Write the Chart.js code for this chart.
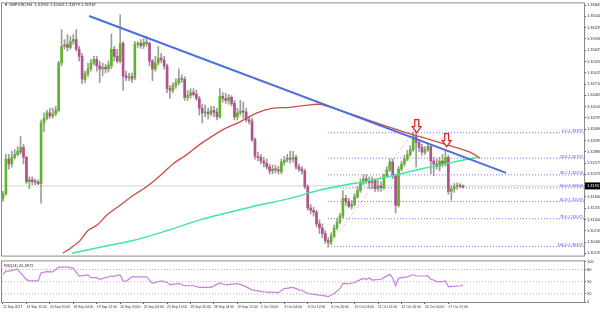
<!DOCTYPE html>
<html>
<head>
<meta charset="utf-8">
<script src="https://cdn.jsdelivr.net/npm/chart.js@4.4.1/dist/chart.umd.min.js"></script>
<style>
  html, body { margin: 0; padding: 0; background: #fff; }
  #wrap { position: relative; width: 600px; height: 313px; overflow: hidden; }
  #main { position: absolute; left: 0; top: 0; }
  #rsi { position: absolute; left: 0; top: 258px; }
</style>
</head>
<body>
<div id="wrap">
  <canvas id="main" width="600" height="259"></canvas>
  <canvas id="rsi" width="600" height="55"></canvas>
</div>
<script>
// GBPUSD H4 candles, 12 Sep - 17 Oct 2017
const openP = [
  1.3162, 1.3175, 1.3268, 1.3255, 1.3273, 1.3281, 1.3287, 1.3300, 1.3273, 1.3207,
  1.3212, 1.3207, 1.3206, 1.3202, 1.3366, 1.3379, 1.3393, 1.3385, 1.3390, 1.3400,
  1.3528, 1.3573, 1.3578, 1.3570, 1.3586, 1.3591, 1.3565, 1.3546, 1.3483, 1.3499,
  1.3512, 1.3528, 1.3538, 1.3520, 1.3512, 1.3517, 1.3512, 1.3520, 1.3565, 1.3546,
  1.3533, 1.3581, 1.3493, 1.3488, 1.3491, 1.3488, 1.3578, 1.3581, 1.3575, 1.3583,
  1.3581, 1.3533, 1.3512, 1.3528, 1.3541, 1.3536, 1.3520, 1.3459, 1.3454, 1.3467,
  1.3475, 1.3485, 1.3484, 1.3435, 1.3440, 1.3448, 1.3443, 1.3432, 1.3406, 1.3393,
  1.3395, 1.3390, 1.3400, 1.3395, 1.3382, 1.3438, 1.3432, 1.3427, 1.3435, 1.3419,
  1.3382, 1.3393, 1.3398, 1.3395, 1.3374, 1.3371, 1.3321, 1.3276, 1.3273, 1.3263,
  1.3257, 1.3247, 1.3236, 1.3241, 1.3239, 1.3234, 1.3260, 1.3265, 1.3271, 1.3268,
  1.3273, 1.3247, 1.3241, 1.3236, 1.3194, 1.3136, 1.3130, 1.3125, 1.3093, 1.3082,
  1.3067, 1.3048, 1.3043, 1.3061, 1.3082, 1.3098, 1.3114, 1.3162, 1.3154, 1.3141,
  1.3146, 1.3167, 1.3183, 1.3204, 1.3215, 1.3210, 1.3204, 1.3210, 1.3188, 1.3196,
  1.3191, 1.3223, 1.3239, 1.3260, 1.3223, 1.3143, 1.3241, 1.3255, 1.3268, 1.3281,
  1.3294, 1.3329, 1.3313, 1.3300, 1.3287, 1.3294, 1.3302, 1.3263, 1.3255, 1.3249,
  1.3263, 1.3255, 1.3273, 1.3181, 1.3188, 1.3194, 1.3196, 1.3195
];
const highP = [
  1.3181, 1.3281, 1.3281, 1.3289, 1.3294, 1.3302, 1.3329, 1.3308, 1.3276, 1.3220,
  1.3220, 1.3215, 1.3212, 1.3374, 1.3393, 1.3400, 1.3406, 1.3406, 1.3411, 1.3533,
  1.3618, 1.3591, 1.3605, 1.3599, 1.3605, 1.3618, 1.3573, 1.3554, 1.3506, 1.3528,
  1.3538, 1.3546, 1.3546, 1.3533, 1.3528, 1.3525, 1.3533, 1.3607, 1.3573, 1.3565,
  1.3658, 1.3586, 1.3506, 1.3501, 1.3501, 1.3586, 1.3586, 1.3591, 1.3594, 1.3599,
  1.3586, 1.3538, 1.3546, 1.3573, 1.3554, 1.3546, 1.3525, 1.3467, 1.3475, 1.3485,
  1.3512, 1.3496, 1.3491, 1.3454, 1.3459, 1.3459, 1.3454, 1.3438, 1.3416, 1.3414,
  1.3406, 1.3411, 1.3411, 1.3406, 1.3459, 1.3448, 1.3446, 1.3443, 1.3440, 1.3427,
  1.3406, 1.3427, 1.3422, 1.3406, 1.3382, 1.3379, 1.3326, 1.3287, 1.3281, 1.3273,
  1.3268, 1.3255, 1.3252, 1.3252, 1.3249, 1.3268, 1.3276, 1.3281, 1.3289, 1.3289,
  1.3279, 1.3255, 1.3249, 1.3241, 1.3199, 1.3146, 1.3138, 1.3130, 1.3104, 1.3093,
  1.3075, 1.3056, 1.3069, 1.3090, 1.3109, 1.3122, 1.3183, 1.3170, 1.3162, 1.3157,
  1.3175, 1.3194, 1.3215, 1.3226, 1.3226, 1.3220, 1.3220, 1.3215, 1.3210, 1.3207,
  1.3228, 1.3247, 1.3268, 1.3268, 1.3228, 1.3249, 1.3263, 1.3279, 1.3292, 1.3305,
  1.3342, 1.3345, 1.3321, 1.3308, 1.3302, 1.3310, 1.3308, 1.3273, 1.3268, 1.3273,
  1.3281, 1.3289, 1.3279, 1.3196, 1.3202, 1.3204, 1.3202, 1.3199
];
const lowP = [
  1.3154, 1.3170, 1.3241, 1.3247, 1.3268, 1.3276, 1.3281, 1.3255, 1.3202, 1.3188,
  1.3199, 1.3199, 1.3199, 1.3149, 1.3342, 1.3374, 1.3379, 1.3379, 1.3385, 1.3395,
  1.3520, 1.3565, 1.3560, 1.3565, 1.3578, 1.3560, 1.3533, 1.3472, 1.3475, 1.3491,
  1.3506, 1.3522, 1.3506, 1.3475, 1.3493, 1.3501, 1.3504, 1.3512, 1.3533, 1.3528,
  1.3528, 1.3454, 1.3480, 1.3480, 1.3475, 1.3483, 1.3570, 1.3567, 1.3567, 1.3573,
  1.3520, 1.3480, 1.3506, 1.3522, 1.3528, 1.3512, 1.3448, 1.3432, 1.3448, 1.3459,
  1.3469, 1.3475, 1.3427, 1.3427, 1.3432, 1.3438, 1.3427, 1.3387, 1.3366, 1.3382,
  1.3377, 1.3385, 1.3382, 1.3374, 1.3379, 1.3422, 1.3419, 1.3416, 1.3411, 1.3374,
  1.3374, 1.3387, 1.3379, 1.3369, 1.3363, 1.3316, 1.3268, 1.3263, 1.3255, 1.3247,
  1.3241, 1.3228, 1.3228, 1.3231, 1.3228, 1.3228, 1.3252, 1.3260, 1.3257, 1.3260,
  1.3241, 1.3234, 1.3228, 1.3188, 1.3130, 1.3120, 1.3114, 1.3085, 1.3067, 1.3056,
  1.3040, 1.3030, 1.3037, 1.3056, 1.3077, 1.3093, 1.3109, 1.3143, 1.3136, 1.3133,
  1.3141, 1.3162, 1.3178, 1.3199, 1.3202, 1.3188, 1.3188, 1.3181, 1.3181, 1.3181,
  1.3186, 1.3218, 1.3234, 1.3215, 1.3122, 1.3138, 1.3236, 1.3249, 1.3263, 1.3276,
  1.3289, 1.3247, 1.3289, 1.3279, 1.3281, 1.3289, 1.3228, 1.3223, 1.3241, 1.3236,
  1.3247, 1.3249, 1.3173, 1.3157, 1.3178, 1.3186, 1.3191, 1.3190
];
const closeP = [
  1.3175, 1.3268, 1.3255, 1.3273, 1.3281, 1.3289, 1.3300, 1.3273, 1.3207, 1.3212,
  1.3207, 1.3206, 1.3202, 1.3366, 1.3379, 1.3393, 1.3385, 1.3390, 1.3400, 1.3528,
  1.3573, 1.3578, 1.3570, 1.3586, 1.3591, 1.3565, 1.3546, 1.3485, 1.3499, 1.3512,
  1.3528, 1.3538, 1.3520, 1.3512, 1.3517, 1.3512, 1.3522, 1.3565, 1.3546, 1.3533,
  1.3581, 1.3493, 1.3488, 1.3491, 1.3485, 1.3578, 1.3581, 1.3575, 1.3583, 1.3581,
  1.3533, 1.3512, 1.3528, 1.3541, 1.3536, 1.3520, 1.3459, 1.3454, 1.3467, 1.3475,
  1.3485, 1.3484, 1.3435, 1.3440, 1.3448, 1.3443, 1.3432, 1.3406, 1.3393, 1.3395,
  1.3390, 1.3400, 1.3395, 1.3382, 1.3438, 1.3432, 1.3427, 1.3435, 1.3419, 1.3382,
  1.3393, 1.3398, 1.3395, 1.3374, 1.3371, 1.3321, 1.3276, 1.3273, 1.3263, 1.3257,
  1.3247, 1.3236, 1.3241, 1.3239, 1.3236, 1.3260, 1.3265, 1.3271, 1.3268, 1.3273,
  1.3247, 1.3241, 1.3236, 1.3194, 1.3136, 1.3130, 1.3125, 1.3093, 1.3082, 1.3067,
  1.3048, 1.3043, 1.3061, 1.3082, 1.3098, 1.3114, 1.3162, 1.3154, 1.3141, 1.3146,
  1.3167, 1.3183, 1.3204, 1.3215, 1.3210, 1.3204, 1.3210, 1.3188, 1.3196, 1.3191,
  1.3223, 1.3239, 1.3260, 1.3223, 1.3143, 1.3241, 1.3255, 1.3268, 1.3281, 1.3294,
  1.3329, 1.3313, 1.3300, 1.3287, 1.3294, 1.3302, 1.3263, 1.3255, 1.3249, 1.3263,
  1.3255, 1.3273, 1.3181, 1.3188, 1.3194, 1.3196, 1.3195, 1.3192
];

// time axis labels, one every 8 bars
const timeLabels = [
  "12 Sep 2017", "13 Sep 12:00", "14 Sep 20:00", "18 Sep 04:00", "19 Sep 12:00",
  "20 Sep 20:00", "22 Sep 04:00", "25 Sep 12:00", "26 Sep 20:00", "28 Sep 04:00",
  "29 Sep 12:00", "2 Oct 20:00", "4 Oct 04:00", "5 Oct 12:00", "6 Oct 20:00",
  "10 Oct 04:00", "11 Oct 12:00", "12 Oct 20:00", "16 Oct 04:00", "17 Oct 12:00"
];
const priceTicks = [
  1.36845, 1.36540, 1.36235, 1.35930, 1.35625, 1.35320, 1.35015, 1.34710,
  1.34405, 1.34100, 1.33795, 1.33490, 1.33185, 1.32880, 1.32575, 1.32270,
  1.31965, 1.31660, 1.31355, 1.31050, 1.30745, 1.30440, 1.30135
];

// moving averages (bar index, price)
const redMaIdx = [20.5, 23.5, 26.3, 29, 32.1, 35.5, 39.9, 44.4, 49.1, 53.6, 58, 62.8, 67.2, 75.1, 80.9,
  86.7, 92.2, 98, 103.8, 108.2, 115, 121.8, 128.7, 135.5, 140, 145.7, 153.6, 159.4, 162.8];
const redMaVal = [1.3014, 1.3030, 1.3048, 1.3075, 1.3090, 1.3117, 1.3143, 1.3170, 1.3194, 1.3223, 1.3255,
  1.3281, 1.3308, 1.3348, 1.3369, 1.3393, 1.3406, 1.3408, 1.3414, 1.3416, 1.3400, 1.3382, 1.3363,
  1.3345, 1.3334, 1.3321, 1.3302, 1.3287, 1.3271];
const greenMaIdx = [23.5, 33.1, 44.4, 56, 67.2, 77.5, 86.7, 98, 108.9, 119.5, 131.1, 142.3, 153.6, 162.1];
const greenMaVal = [1.3014, 1.3030, 1.3048, 1.3075, 1.3104, 1.3125, 1.3143, 1.3162, 1.3186, 1.3202,
  1.3220, 1.3241, 1.3260, 1.3273];

// bearish trend line
const trendIdx = [29.4, 171.7];
const trendVal = [1.3655, 1.3231];

// fibonacci retracement
const fibPct = ["0.0", "23.6", "38.2", "50.0", "61.8", "78.6", "100.0"];
const fibVal = [1.33395, 1.32707, 1.32256, 1.31904, 1.31533, 1.31071, 1.30322];
const fibStart = 110.9;
const fibSwingIdx = [110.9, 140];
const fibSwingVal = [1.30322, 1.33395];

const arrowIdx = [141.2, 151.4];
const arrowVal = [1.3340, 1.3302];
const lastPrice = 1.31957;

// RSI(14)
const rsiIdx = [0, 1, 2, 5, 6, 8, 9, 12, 13, 15, 17, 19, 22, 24, 26, 29, 30, 32, 33, 37,
  38, 39, 40, 41, 42, 44, 49, 51, 54, 56, 57, 60, 62, 65, 67, 71, 74, 76, 80, 82,
  85, 89, 94, 96, 99, 101, 102, 104, 108, 110, 111, 113, 115, 116, 118, 120, 121, 123, 124, 125,
  126, 129, 130, 132, 133, 134, 135, 138, 140, 141, 144, 145, 146, 147, 148, 150, 151, 152, 153, 156, 157];
const rsiVal = [68, 76, 76, 81, 72, 55, 52, 52, 72, 75, 74, 86, 86, 83, 64, 67, 60, 60, 56, 64,
  63, 66, 66, 52, 51, 62, 62, 46, 52, 48, 42, 46, 40, 40, 36, 36, 47, 42, 45, 41,
  30, 25, 23, 33, 36, 30, 29, 21, 17, 15, 13, 21, 33, 46, 45, 48, 52, 58, 56, 59,
  54, 56, 60, 68, 59, 40, 59, 62, 67, 64, 64, 65, 56, 54, 50, 50, 52, 38, 38, 40, 41];
const rsiTicks = [0, 20, 50, 80, 100];
const rsiLevels = [20, 50, 80];

const X_MIN = -0.341, X_MAX = 198.29;
const UP = "#62b22a", DOWN = "#b4508c", WICK = "#9c9c9c";
const FONT = '"Liberation Sans", Arial, sans-serif';

Chart.defaults.font.family = FONT;
Chart.defaults.animation = false;

const pts = (idx, vals) => idx.map((x, k) => ({ x: x, y: vals[k] }));
const flat = (v, from) => [{ x: from, y: v }, { x: X_MAX, y: v }];

function drawArrow(ctx, cx, tip) {
  ctx.beginPath();
  ctx.moveTo(cx, tip);
  ctx.lineTo(cx - 4.5, tip - 6);
  ctx.lineTo(cx - 2, tip - 6);
  ctx.lineTo(cx - 2, tip - 13);
  ctx.lineTo(cx + 2, tip - 13);
  ctx.lineTo(cx + 2, tip - 6);
  ctx.lineTo(cx + 4.5, tip - 6);
  ctx.closePath();
  ctx.fillStyle = "#fff";
  ctx.fill();
  ctx.strokeStyle = "#e3262b";
  ctx.lineWidth = 1.3;
  ctx.stroke();
}

const mainOverlay = {
  id: "mainOverlay",
  afterDraw(chart) {
    const { ctx, chartArea: a, scales: { x, y } } = chart;
    ctx.save();
    ctx.font = "4px " + FONT;
    // fib labels
    ctx.fillStyle = "#4b4bff";
    ctx.textAlign = "right";
    ctx.textBaseline = "bottom";
    fibPct.forEach((p, k) => {
      ctx.fillText(p + " " + fibVal[k].toFixed(5), a.right - 1, y.getPixelForValue(fibVal[k]) + 0.5);
    });
    // arrows
    arrowIdx.forEach((v, k) => drawArrow(ctx, x.getPixelForValue(v), y.getPixelForValue(arrowVal[k])));
    // frame
    ctx.strokeStyle = "#8a8a8a";
    ctx.lineWidth = 1;
    ctx.strokeRect(a.left - 0.5, a.top - 0.5, a.right - a.left + 1, a.bottom - a.top + 1);
    // title
    ctx.fillStyle = "#222";
    ctx.textAlign = "left";
    ctx.textBaseline = "middle";
    ctx.fillText("\u25BC GBPUSD,H4  1.31961 1.32003 1.31879 1.31919", 4, 5);
    // last price box
    const py = y.getPixelForValue(lastPrice);
    ctx.fillStyle = "#000";
    ctx.fillRect(a.right + 1, py - 3.5, 16, 7);
    ctx.fillStyle = "#fff";
    ctx.fillText(lastPrice.toFixed(5), a.right + 3, py);
    ctx.restore();
  }
};

new Chart(document.getElementById("main"), {
  type: "bar",
  data: {
    datasets: [
      {
        type: "line", data: flat(lastPrice, X_MIN), borderColor: "#c9dcc9", borderWidth: 1,
        pointRadius: 0, order: 20
      },
      ...fibVal.map((v) => ({
        type: "line", data: flat(v, fibStart), borderColor: "#6f6fff", borderWidth: 1,
        borderDash: [1, 2], pointRadius: 0, order: 15
      })),
      {
        type: "line", data: pts(fibSwingIdx, fibSwingVal), borderColor: "#f08a8a", borderWidth: 1,
        borderDash: [1, 2], pointRadius: 0, order: 15
      },
      {
        data: lowP.map((l, i) => ({ x: i, y: [l, highP[i]] })),
        backgroundColor: WICK, barThickness: 1, grouped: false, minBarLength: 1, order: 10
      },
      {
        data: openP.map((o, i) => ({ x: i, y: [o, closeP[i]] })),
        backgroundColor: openP.map((o, i) => (closeP[i] >= o ? UP : DOWN)),
        barThickness: 2, grouped: false, minBarLength: 1, order: 9
      },
      {
        type: "line", data: pts(greenMaIdx, greenMaVal), borderColor: "#3fe89b", borderWidth: 1.5,
        pointRadius: 0, tension: 0.3, order: 5
      },
      {
        type: "line", data: pts(redMaIdx, redMaVal), borderColor: "#c9504a", borderWidth: 1.3,
        pointRadius: 0, tension: 0.3, order: 5
      },
      {
        type: "line", data: pts(trendIdx, trendVal), borderColor: "#4a6fdc", borderWidth: 2,
        pointRadius: 0, order: 4
      }
    ]
  },
  options: {
    responsive: false,
    events: [],
    layout: { padding: { left: 2, top: 1, bottom: 1, right: 0 } },
    plugins: { legend: { display: false }, tooltip: { enabled: false } },
    scales: {
      x: { type: "linear", min: X_MIN, max: X_MAX, offset: false, display: false },
      y: {
        position: "right",
        min: 1.30074,
        max: 1.3689,
        afterBuildTicks: (s) => { s.ticks = priceTicks.map((v) => ({ value: v })); },
        afterFit: (s) => { s.width = 16; },
        ticks: {
          autoSkip: false, padding: 1, color: "#333", font: { size: 4 },
          callback: (v) => v.toFixed(5)
        },
        grid: { drawOnChartArea: false, tickLength: 2, color: "#555" },
        border: { display: true, color: "#555" }
      }
    }
  },
  plugins: [mainOverlay]
});

const rsiOverlay = {
  id: "rsiOverlay",
  afterDraw(chart) {
    const { ctx, chartArea: a } = chart;
    ctx.save();
    ctx.strokeStyle = "#8a8a8a";
    ctx.lineWidth = 1;
    ctx.strokeRect(a.left - 0.5, a.top - 0.5, a.right - a.left + 1, a.bottom - a.top + 1);
    ctx.font = "4px " + FONT;
    ctx.fillStyle = "#222";
    ctx.textBaseline = "middle";
    ctx.fillText("RSI(14) 41.3972", 4, a.top + 4);
    ctx.restore();
  }
};

new Chart(document.getElementById("rsi"), {
  type: "line",
  data: {
    datasets: [
      ...rsiLevels.map((v) => ({
        data: flat(v, X_MIN), borderColor: "#b5b5b5", borderWidth: 1, borderDash: [1, 2],
        pointRadius: 0, order: 5
      })),
      {
        data: pts(rsiIdx, rsiVal), borderColor: "#c77fe0", borderWidth: 1.2,
        pointRadius: 0, order: 1
      }
    ]
  },
  options: {
    responsive: false,
    events: [],
    layout: { padding: { left: 2, top: 2, bottom: 0, right: 0 } },
    plugins: { legend: { display: false }, tooltip: { enabled: false } },
    scales: {
      x: {
        type: "linear", min: X_MIN, max: X_MAX, offset: false,
        afterBuildTicks: (s) => { s.ticks = timeLabels.map((t, k) => ({ value: k * 8 })); },
        afterFit: (s) => { s.height = 11; },
        ticks: {
          autoSkip: false, maxRotation: 0, align: "start", padding: 1, color: "#333",
          font: { size: 3.4 }, callback: (v) => timeLabels[Math.round(v / 8)]
        },
        grid: { drawOnChartArea: false, tickLength: 2, color: "#555" },
        border: { display: true, color: "#555" }
      },
      y: {
        position: "right", min: 0, max: 100,
        afterBuildTicks: (s) => { s.ticks = rsiTicks.map((v) => ({ value: v })); },
        afterFit: (s) => { s.width = 16; },
        ticks: { autoSkip: false, padding: 1, color: "#333", font: { size: 4 } },
        grid: { drawOnChartArea: false, tickLength: 2, color: "#555" },
        border: { display: true, color: "#555" }
      }
    }
  },
  plugins: [rsiOverlay]
});
</script>
</body>
</html>
